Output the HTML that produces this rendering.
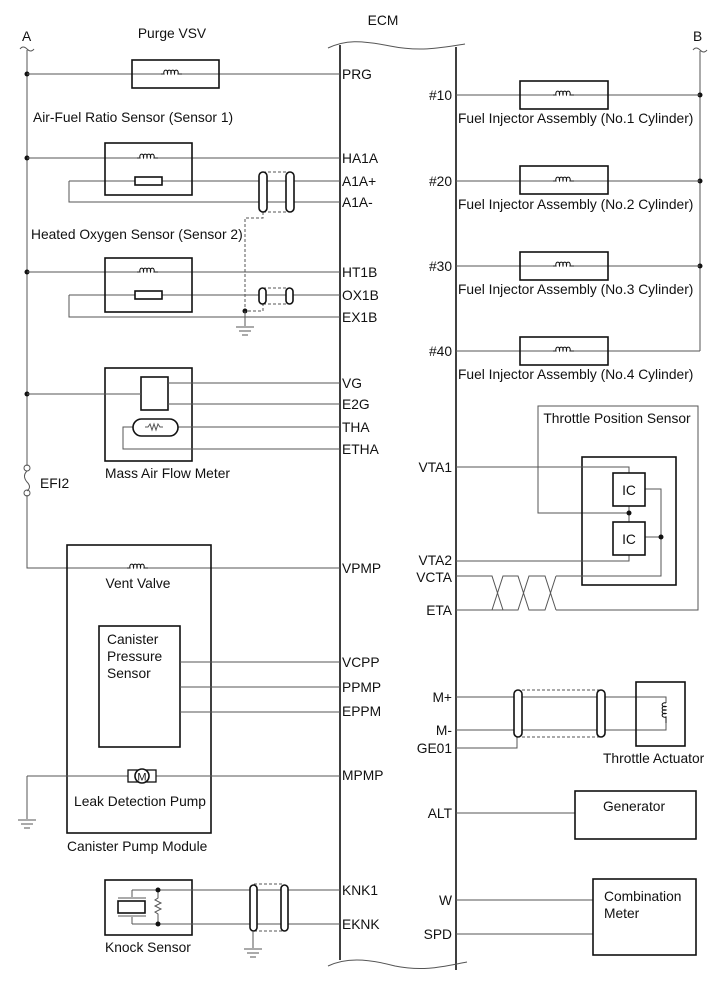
<!DOCTYPE html>
<html><head><meta charset="utf-8"><style>
html,body{margin:0;padding:0;background:#fff}
svg{display:block}
text{font-family:"Liberation Sans",Arial,sans-serif;font-size:13.8px;fill:#111}
.w{stroke:#555;stroke-width:1;fill:none}
.b{stroke:#111;stroke-width:1.6;fill:none}
.d{stroke:#555;stroke-width:1;fill:none;stroke-dasharray:3,2}
.o{stroke:#111;stroke-width:1.6;fill:#fff}
</style></head><body>
<svg width="713" height="982" viewBox="0 0 713 982" xmlns="http://www.w3.org/2000/svg">
<defs>
<g id="coil"><rect x="-9" y="-4" width="18" height="6" fill="#fff"/><path d="M-11,0 h3 a2,2.6 0 1 1 3.5,0 a2,2.6 0 1 1 3.5,0 a2,2.6 0 1 1 3.5,0 a2,2.6 0 1 1 3.5,0 h4" fill="none" stroke="#111" stroke-width="1"/></g>
<g id="gnd"><path d="M-9,0h18M-6,4h12M-3,8h6" class="w" stroke="#111"/></g>
</defs>
<!-- ECM -->
<text x="383" y="25" text-anchor="middle">ECM</text>
<path d="M328,48 C345,40 360,40 390,46 C420,52 440,48 465,44" class="w" stroke="#111"/>
<path d="M340,45 V960 M456,47 V970" class="b"/>
<path d="M328,966 C345,958 365,958 395,966 C425,972 445,966 467,962" class="w" stroke="#111"/>

<!-- left bus A -->
<text x="22" y="41">A</text>
<path d="M20,49 q3,-4 7,0 q4,4 7,0" class="w" stroke="#111"/>
<path d="M27,50 V466 M27,495 V568 H340" class="w"/>
<circle cx="27" cy="468" r="3" class="w" stroke="#111" fill="#fff"/>
<circle cx="27" cy="493" r="3" class="w" stroke="#111" fill="#fff"/>
<path d="M27,471 q-5,5 0,11 q5,5 0,9" class="w" stroke="#111"/>
<text x="40" y="488">EFI2</text>
<g fill="#111"><circle cx="27" cy="74" r="2.5"/><circle cx="27" cy="158" r="2.5"/><circle cx="27" cy="272" r="2.5"/><circle cx="27" cy="394" r="2.5"/></g>

<!-- Purge VSV -->
<text x="172" y="38" text-anchor="middle">Purge VSV</text>
<path d="M27,74 H340" class="w"/>
<rect x="132" y="60" width="87" height="28" class="b" fill="none"/>
<use href="#coil" x="172" y="74"/>
<text x="342" y="79">PRG</text>

<!-- AF sensor -->
<text x="33" y="122">Air-Fuel Ratio Sensor (Sensor 1)</text>
<path d="M27,158 H340 M69,181 H340 M69,181 V202 H340" class="w"/>
<rect x="105" y="143" width="87" height="52" class="b"/>
<use href="#coil" x="148" y="158"/>
<rect x="135" y="177" width="27" height="8" class="o"/>
<path d="M263,172 H290 M263,212 H290 M263,212 V218 H245 V311 H263 V304" class="d"/>
<rect x="259" y="172" width="8" height="40" rx="4" class="o"/>
<rect x="286" y="172" width="8" height="40" rx="4" class="o"/>
<text x="342" y="163">HA1A</text><text x="342" y="186">A1A+</text><text x="342" y="207">A1A-</text>

<!-- HO2 -->
<text x="31" y="239">Heated Oxygen Sensor (Sensor 2)</text>
<path d="M27,272 H340 M69,295 H340 M69,295 V317 H340" class="w"/>
<rect x="105" y="258" width="87" height="54" class="b"/>
<use href="#coil" x="148" y="272"/>
<rect x="135" y="291" width="27" height="8" class="o"/>
<path d="M263,288 H290 M263,304 H290" class="d"/>
<rect x="259" y="288" width="7" height="16" rx="3.5" class="o"/>
<rect x="286" y="288" width="7" height="16" rx="3.5" class="o"/>
<circle cx="245" cy="311" r="2.5" fill="#111"/>
<path d="M245,311 V326" class="w"/>
<use href="#gnd" x="245" y="327"/>
<text x="342" y="277">HT1B</text><text x="342" y="300">OX1B</text><text x="342" y="322">EX1B</text>

<!-- MAF -->
<rect x="105" y="368" width="87" height="93" class="b"/>
<rect x="141" y="377" width="27" height="33" class="o"/>
<path d="M27,394 H141 M168,383 H340 M168,404 H340 M178,427 H340 M133,427 H123 V449 H340" class="w"/>
<rect x="133" y="419" width="45" height="17" rx="8.5" class="o"/>
<path d="M145,427 h3 l2,-3 l2,6 l2,-6 l2,6 l2,-6 l2,3 h3" class="w" stroke="#111"/>
<text x="105" y="478">Mass Air Flow Meter</text>
<text x="342" y="388">VG</text><text x="342" y="409">E2G</text><text x="342" y="432">THA</text><text x="342" y="454">ETHA</text>

<!-- Canister pump module -->
<rect x="67" y="545" width="144" height="288" class="b"/>
<use href="#coil" x="138" y="568"/>
<text x="138" y="588" text-anchor="middle">Vent Valve</text>
<text x="342" y="573">VPMP</text>
<rect x="99" y="626" width="81" height="121" class="b"/>
<text x="107" y="644">Canister</text><text x="107" y="661">Pressure</text><text x="107" y="678">Sensor</text>
<path d="M180,662 H340 M180,687 H340 M180,712 H340" class="w"/>
<text x="342" y="667">VCPP</text><text x="342" y="692">PPMP</text><text x="342" y="716">EPPM</text>
<path d="M27,776 H340 M27,776 V819" class="w"/>
<use href="#gnd" x="27" y="820"/>
<rect x="128" y="770" width="28" height="12" fill="#fff" stroke="#111" stroke-width="1.3"/>
<circle cx="142" cy="776" r="7" class="o"/>
<text x="142" y="780.5" text-anchor="middle" style="font-size:11px">M</text>
<text x="140" y="806" text-anchor="middle">Leak Detection Pump</text>
<text x="67" y="851">Canister Pump Module</text>
<text x="342" y="780">MPMP</text>

<!-- Knock -->
<rect x="105" y="880" width="87" height="55" class="b"/>
<path d="M132,890 H340 M132,924 H340 M132,890 V897 M132,924 V917 M118,898 H146 M118,916 H146" class="w" stroke="#111"/>
<rect x="118" y="901" width="27" height="12" class="o"/>
<path d="M158,890 V898 l-3,2 l6,3 l-6,3 l6,3 l-6,3 l3,2 V924" class="w" stroke="#111"/>
<circle cx="158" cy="890" r="2.5" fill="#111"/><circle cx="158" cy="924" r="2.5" fill="#111"/>
<text x="105" y="952">Knock Sensor</text>
<path d="M254,884 H284 M254,931 H284" class="d"/>
<rect x="250" y="885" width="7" height="46" rx="3.5" class="o"/>
<rect x="281" y="885" width="7" height="46" rx="3.5" class="o"/>
<path d="M253,931 V948" class="w"/>
<use href="#gnd" x="253" y="949"/>
<text x="342" y="895">KNK1</text><text x="342" y="929">EKNK</text>

<!-- right bus B -->
<text x="693" y="41">B</text>
<path d="M693,50 q3,-4 7,0 q4,4 7,0" class="w" stroke="#111"/>
<path d="M700,51 V351" class="w"/>
<g fill="#111"><circle cx="700" cy="95" r="2.5"/><circle cx="700" cy="181" r="2.5"/><circle cx="700" cy="266" r="2.5"/></g>
<g>
<path d="M456,95 H700 M456,181 H700 M456,266 H700 M456,351 H700" class="w"/>
<rect x="520" y="81" width="88" height="28" class="b"/>
<rect x="520" y="166" width="88" height="28" class="b"/>
<rect x="520" y="252" width="88" height="28" class="b"/>
<rect x="520" y="337" width="88" height="28" class="b"/>
<use href="#coil" x="564" y="95"/><use href="#coil" x="564" y="181"/><use href="#coil" x="564" y="266"/><use href="#coil" x="564" y="351"/>
<text x="452" y="100" text-anchor="end">#10</text><text x="452" y="186" text-anchor="end">#20</text><text x="452" y="271" text-anchor="end">#30</text><text x="452" y="356" text-anchor="end">#40</text>
<text x="458" y="123">Fuel Injector Assembly (No.1 Cylinder)</text>
<text x="458" y="209">Fuel Injector Assembly (No.2 Cylinder)</text>
<text x="458" y="294">Fuel Injector Assembly (No.3 Cylinder)</text>
<text x="458" y="379">Fuel Injector Assembly (No.4 Cylinder)</text>
</g>

<!-- TPS -->
<path d="M556,610 H698 V406 H538 V513 H629" class="w" stroke="#777"/>
<text x="617" y="423" text-anchor="middle">Throttle Position Sensor</text>
<rect x="582" y="457" width="94" height="128" class="b"/>
<path d="M456,467 H629 V473 M629,506 V522 M456,561 H629 V555 M645,489 H661 V576 H556 M645,537 H661" class="w"/>
<rect x="613" y="473" width="32" height="33" class="o"/>
<rect x="613" y="522" width="32" height="33" class="o"/>
<text x="629" y="495" text-anchor="middle">IC</text><text x="629" y="544" text-anchor="middle">IC</text>
<circle cx="629" cy="513" r="2.5" fill="#111"/><circle cx="661" cy="537" r="2.5" fill="#111"/>
<path d="M456,576 H492 L503,610 H467 M456,610 H492 L503,576 H518 L529,610 H545 L556,576 M503,610 H518 L529,576 H545 L556,610" class="w"/>
<text x="452" y="472" text-anchor="end">VTA1</text><text x="452" y="565" text-anchor="end">VTA2</text><text x="452" y="582" text-anchor="end">VCTA</text><text x="452" y="615" text-anchor="end">ETA</text>

<!-- Throttle actuator -->
<path d="M456,697 H666 V703 M666,723 V730 H456 M456,748 H517 V737" class="w"/>
<path d="M517,690 H600 M517,737 H600" class="d"/>
<rect x="514" y="690" width="8" height="47" rx="4" class="o"/>
<rect x="597" y="690" width="8" height="47" rx="4" class="o"/>
<rect x="636" y="682" width="49" height="64" class="b"/>
<path d="M666,703 a2.6,2 0 1 0 0,3.5 a2.6,2 0 1 0 0,3.5 a2.6,2 0 1 0 0,3.5 a2.6,2 0 1 0 0,3.5 v6" fill="none" stroke="#111" stroke-width="1"/>
<text x="603" y="763">Throttle Actuator</text>
<text x="452" y="702" text-anchor="end">M+</text><text x="452" y="735" text-anchor="end">M-</text><text x="452" y="753" text-anchor="end">GE01</text>

<!-- Generator -->
<path d="M456,813 H575" class="w"/>
<rect x="575" y="791" width="121" height="48" class="b"/>
<text x="634" y="811" text-anchor="middle">Generator</text>
<text x="452" y="818" text-anchor="end">ALT</text>

<!-- Combination meter -->
<path d="M456,900 H593 M456,934 H593" class="w"/>
<rect x="593" y="879" width="103" height="76" class="b"/>
<text x="604" y="901">Combination</text><text x="604" y="918">Meter</text>
<text x="452" y="905" text-anchor="end">W</text><text x="452" y="939" text-anchor="end">SPD</text>
</svg>
</body></html>
